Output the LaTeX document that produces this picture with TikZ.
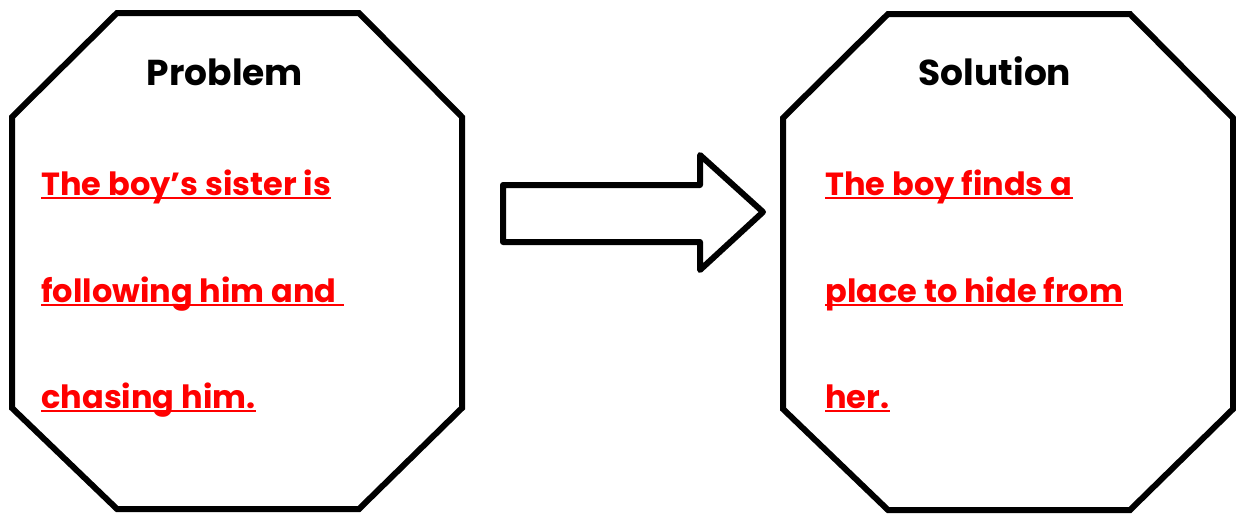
\documentclass[tikz,border=0pt]{standalone}
\usepackage{fontspec}
\setmainfont{Poppins}
\usepackage{tikz}
\newcommand\drawoct[1]{%
	\begin{scope}[shift={#1}]
    \draw[octline] (105,0) -- (347,0) -- (450,104) -- (450,395) -- (347,496)
       -- (105,496) -- (0,395) -- (0,104) -- cycle;
	\end{scope}
}

\begin{document}
\begin{tikzpicture}[x=0.5pt,y=-0.5pt,
  octline/.style={line width=3pt,line join=miter},
  headtext/.style={anchor=base,font=\fontsize{18}{18}\selectfont\bfseries},
  storytext/.style={anchor=base west,inner sep=0pt,text=red,font=\fontsize{16}{16}\selectfont\bfseries}]
\useasboundingbox (0,0) rectangle (1236,516);
\drawoct{(12,13)}
\drawoct{(783,14)}
% arrow between the two boxes
\draw[line width=3pt,line join=round] (503,185) -- (700,185) -- (700,155) -- (763,212)
   -- (700,270) -- (700,242) -- (503,242) -- cycle;

\node[headtext] (probtitle) at (225,85) {Problem};
\node[headtext] (soltitle) at (995,85) {Solution};

\node[storytext] (prob1) at (41,195) {The boy\char"27 s sister is};
\node[storytext] (prob2) at (41,302) {following him and\hbox{\ }};
\node[storytext] (prob3) at (41,408) {chasing him.};

\node[storytext] (sol1) at (825,195) {The boy finds a};
\node[storytext] (sol2) at (825,302) {place to hide from};
\node[storytext] (sol3) at (825,408) {her.};

% underlines
\foreach \t in {prob1,prob2,prob3,sol1,sol2,sol3}
  \draw[red,line width=1pt] ([yshift=-1.3pt]\t.base west) -- ([yshift=-1.3pt]\t.base east);
\end{tikzpicture}
\end{document}
